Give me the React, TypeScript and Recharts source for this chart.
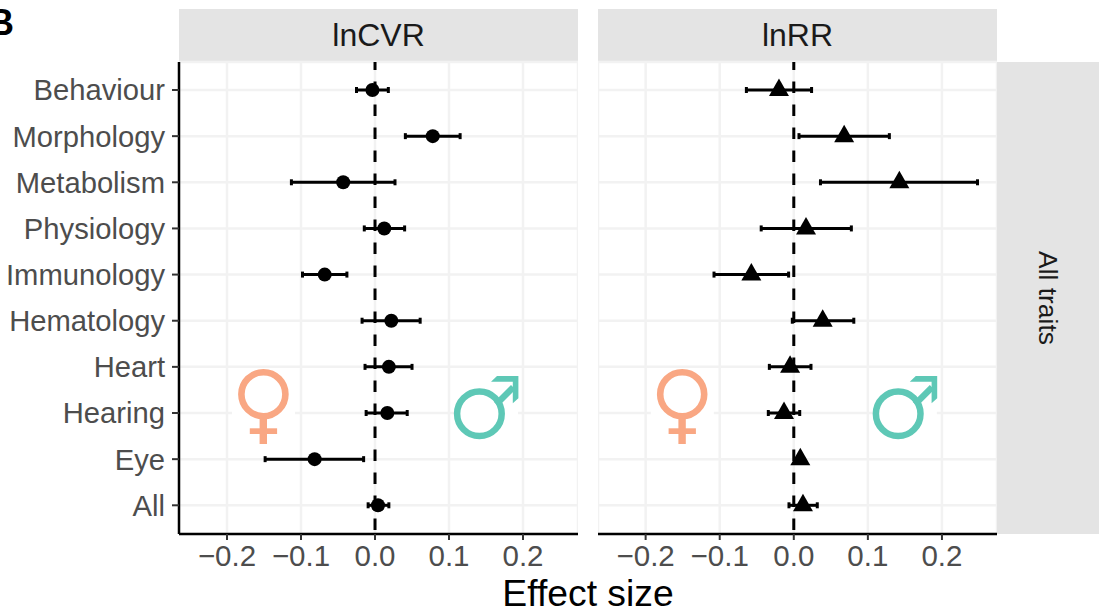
import { ScatterChart, Scatter, XAxis, YAxis, CartesianGrid, ReferenceLine, ErrorBar } from "recharts";

const traits = ["Behaviour", "Morphology", "Metabolism", "Physiology", "Immunology", "Hematology", "Heart", "Hearing", "Eye", "All"];

const cvrMean = [-0.0035, 0.078, -0.043, 0.0125, -0.068, 0.022, 0.0187, 0.0166, -0.0816, 0.004];
const cvrLow = [-0.025, 0.041, -0.113, -0.0145, -0.098, -0.0175, -0.0135, -0.012, -0.1485, -0.0093];
const cvrHigh = [0.018, 0.115, 0.027, 0.04, -0.038, 0.061, 0.05, 0.0435, -0.0154, 0.0187];

const rrMean = [-0.02, 0.068, 0.1425, 0.0165, -0.0573, 0.039, -0.005, -0.0132, 0.0088, 0.0124];
const rrLow = [-0.064, 0.007, 0.036, -0.044, -0.1077, -0.002, -0.033, -0.0344, 0.005, -0.0065];
const rrHigh = [0.024, 0.129, 0.248, 0.0777, -0.007, 0.081, 0.0232, 0.008, 0.012, 0.0317];

const xTicks = [-0.2, -0.1, 0, 0.1, 0.2];

const FONT = '"Liberation Sans", Arial, sans-serif';
const GRID = "#f2f2f2";
const STRIP = "#e4e4e4";
const FEMALE = "#f9a783";
const MALE = "#5ec8b6";

function rows(mean: number[], low: number[], high: number[]) {
  return traits.map((trait, i) => ({
    trait,
    value: mean[i],
    err: [mean[i] - low[i], high[i] - mean[i]],
  }));
}

const fmtTick = (v: number) => (v < 0 ? "\u2212" + Math.abs(v).toFixed(1) : v.toFixed(1));

const Dot = (p: any) => <circle cx={p.cx} cy={p.cy} r={7} fill="#000" />;

const Tri = (p: any) => (
  <path d={`M${p.cx} ${p.cy - 11.5}L${p.cx + 10} ${p.cy + 6}L${p.cx - 10} ${p.cy + 6}Z`} fill="#000" />
);

function Panel(props: { data: any[]; left: number; width: number; domain: number[]; showY: boolean; shape: any }) {
  const { data, left, width, domain, showY, shape } = props;
  const axisLine = { stroke: "#000", strokeWidth: 2.5 };
  const tickLine = { stroke: "#333", strokeWidth: 2 };
  return (
    <div style={{ position: "absolute", left, top: 0 }}>
      <ScatterChart width={width} height={612} margin={{ top: 62, right: 0, bottom: 0, left: 0 }}>
        <CartesianGrid stroke={GRID} strokeWidth={2.5} />
        <XAxis
          type="number"
          dataKey="value"
          domain={domain}
          ticks={xTicks}
          allowDataOverflow
          height={78}
          tickSize={6}
          tickMargin={5}
          tickFormatter={fmtTick}
          axisLine={axisLine}
          tickLine={tickLine}
          tick={{ fontSize: 29.5, fontFamily: FONT, fill: "#4d4d4d" }}
        />
        <YAxis
          type="category"
          dataKey="trait"
          scale="point"
          reversed
          padding={{ top: 28, bottom: 28.7 }}
          width={showY ? 179 : 0}
          hide={!showY}
          interval={0}
          tickSize={7}
          tickMargin={7}
          axisLine={axisLine}
          tickLine={tickLine}
          tick={{ fontSize: 29.2, fontFamily: FONT, fill: "#4d4d4d" }}
        />
        <ReferenceLine x={0} stroke="#000" strokeWidth={3} strokeDasharray="11.5 11.5" strokeDashoffset={-4} />
        <Scatter data={data} shape={shape} isAnimationActive={false}>
          <ErrorBar dataKey="err" direction="x" width={3} stroke="#000" strokeWidth={3} isAnimationActive={false} />
        </Scatter>
      </ScatterChart>
    </div>
  );
}

// the sex symbols sit on white boxes that hide the grid, same offset in both panels
function SexSymbols({ dx }: { dx: number }) {
  return (
    <g transform={`translate(${dx} 0)`}>
      <rect x={232} y={368} width={63} height={77} fill="#fff" />
      <rect x={454} y={368} width={64} height={72} fill="#fff" />
      <circle cx={263.4} cy={394.2} r={22} fill="none" stroke={FEMALE} strokeWidth={6.6} />
      <rect x={259.6} y={417} width={7.4} height={27} fill={FEMALE} />
      <rect x={249.8} y={428.3} width={27.3} height={5.7} fill={FEMALE} />
      <circle cx={479.4} cy={413.8} r={22.3} fill="none" stroke={MALE} strokeWidth={6.5} />
      <path d="M494 402L511 385L515.5 389.5L498.5 406.5Z" fill={MALE} />
      <path d="M518.4 376L497 376L491 381.7L512.8 381.7L512.8 403.3L518.4 398.3Z" fill={MALE} />
    </g>
  );
}

const stripText: any = {
  position: "absolute",
  fontFamily: FONT,
  color: "#1a1a1a",
  fontSize: 32,
  textAlign: "center",
};

export default function App() {
  return (
    <div style={{ position: "absolute", left: 0, top: 0, width: 1099, height: 612, overflow: "hidden", background: "#fff" }}>
      <div style={{ ...stripText, left: 179, top: 9, width: 399, height: 53, lineHeight: "53px", background: STRIP }}>lnCVR</div>
      <div style={{ ...stripText, left: 598, top: 9, width: 399, height: 53, lineHeight: "53px", background: STRIP }}>lnRR</div>
      <div style={{ position: "absolute", left: 997, top: 62, width: 102, height: 472, background: STRIP }} />

      <Panel data={rows(cvrMean, cvrLow, cvrHigh)} left={0} width={578} domain={[-0.2649, 0.2743]} showY shape={Dot} />
      <Panel data={rows(rrMean, rrLow, rrHigh)} left={598} width={399} domain={[-0.2643, 0.2743]} showY={false} shape={Tri} />

      <svg width={1099} height={612} style={{ position: "absolute", left: 0, top: 0, pointerEvents: "none" }}>
        <SexSymbols dx={0} />
        <SexSymbols dx={418.8} />
        <text x={1048} y={298} transform="rotate(90 1048 298)" textAnchor="middle" dominantBaseline="central" fontFamily={FONT} fontSize={26.4} fill="#1a1a1a">
          All traits
        </text>
        <text x={588} y={606} textAnchor="middle" fontFamily={FONT} fontSize={37.3} fill="#000">
          Effect size
        </text>
        <text x={-12} y={35} fontFamily={FONT} fontSize={36} fontWeight="bold" fill="#000">
          B
        </text>
      </svg>
    </div>
  );
}
